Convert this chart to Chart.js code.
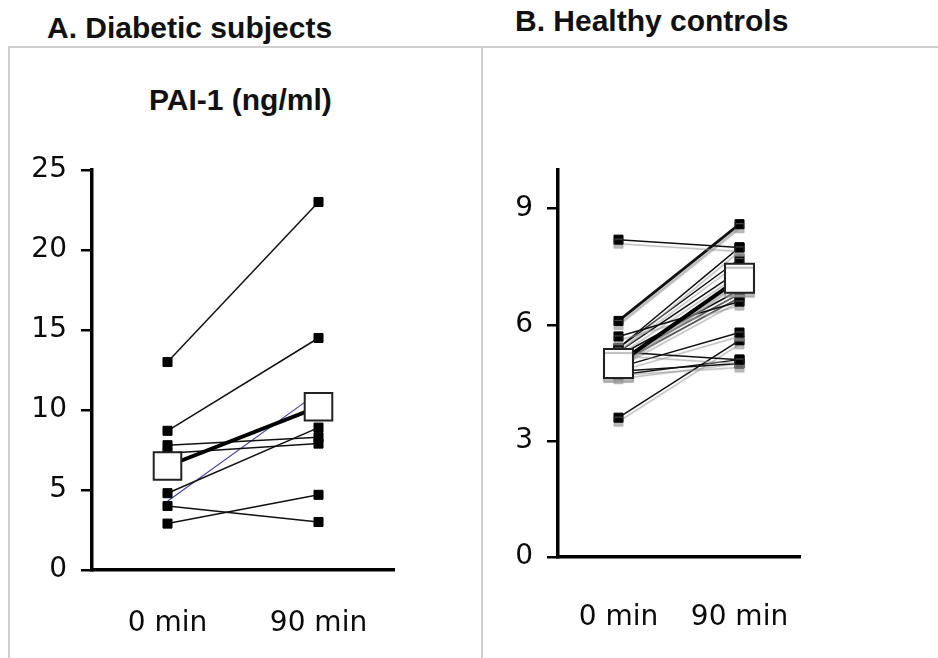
<!DOCTYPE html>
<html>
<head>
<meta charset="utf-8">
<script src="https://cdn.jsdelivr.net/npm/chart.js@4.4.1/dist/chart.umd.min.js"></script>
<style>
  html, body { margin: 0; padding: 0; background: #fff; }
  body { width: 938px; height: 658px; position: relative; overflow: hidden; }
  .t { position: absolute; font-family: "Liberation Sans", Arial, sans-serif; font-weight: bold; font-size: 30px; line-height: 1; color: #111; white-space: nowrap; }
  .ln { position: absolute; background: #cfcfcf; }
  canvas { position: absolute; }
</style>
</head>
<body>
<div class="ln" style="left:9px; top:46px; width:929px; height:2px;"></div>
<div class="ln" style="left:8px; top:46px; width:2px; height:612px;"></div>
<div class="ln" style="left:481px; top:46px; width:2px; height:612px;"></div>
<div class="t" style="left:47px; top:13px;">A. Diabetic subjects</div>
<div class="t" style="left:515px; top:6px;">B. Healthy controls</div>
<div class="t" style="left:149px; top:85px;">PAI-1 (ng/ml)</div>
<div style="position:absolute; left:0; top:0; width:482px; height:658px;"><canvas id="ca"></canvas></div>
<div style="position:absolute; left:482px; top:0; width:456px; height:658px;"><canvas id="cb"></canvas></div>
<script>
// ---- data ----
const categories = ['0 min', '90 min'];
const aTicks = [0, 5, 10, 15, 20, 25];
const bTicks = [0, 3, 6, 9];
// Panel A: diabetic subjects, PAI-1 (ng/ml) at 0 and 90 min
const aStart = [13.0, 8.7, 7.8, 7.3, 4.8, 4.3, 4.0, 2.9];
const aEnd   = [23.0, 14.5, 8.3, 7.9, 8.9, 11.1, 3.0, 4.7];
const aMean  = [6.5, 10.2];
// Panel B: healthy controls
const bStart = [8.2, 6.1, 5.7, 5.4, 5.4, 5.3, 5.2, 5.1, 5.3, 4.9, 4.8, 3.6, 5.0, 4.7];
const bEnd   = [8.0, 8.6, 6.6, 8.0, 7.7, 7.4, 6.9, 6.8, 5.1, 5.8, 5.0, 5.6, 6.7, 5.1];
const bMean  = [5.0, 7.2];

const catPos = [1, 3];      // category slots on a 0..4 x range
const aBlue = 5;            // subject drawn with the blue line in panel A
const bThick = 1;           // subject drawn with a heavier line in panel B

function pairData(v0, v1) {
  return [{ x: catPos[0], y: v0 }, { x: catPos[1], y: v1 }];
}

function makeDatasets(starts, ends, mean, special, specialStyle, meanRadius) {
  const ds = [];
  ds.push({
    data: pairData(mean[0], mean[1]),
    borderColor: '#000', borderWidth: 4,
    pointStyle: 'rect', pointRadius: meanRadius, pointHoverRadius: meanRadius,
    pointBackgroundColor: '#fff', pointBorderColor: '#222', pointBorderWidth: 2
  });
  starts.forEach((s, i) => {
    const d = {
      data: pairData(s, ends[i]),
      borderColor: '#111', borderWidth: 1.5,
      pointStyle: 'rect', pointRadius: 6.4, pointHoverRadius: 6.4,
      pointBackgroundColor: '#000', pointBorderColor: '#000', pointBorderWidth: 1
    };
    if (i === special) Object.assign(d, specialStyle);
    ds.push(d);
  });
  return ds;
}

const shadowPlugin = {
  id: 'softShadow',
  beforeDatasetsDraw(chart, args, o) {
    if (!o.on) return;
    const ctx = chart.ctx;
    ctx.save();
    ctx.shadowColor = 'rgba(150,150,150,0.65)';
    ctx.shadowOffsetY = 4;
    ctx.shadowBlur = 1;
  },
  afterDatasetsDraw(chart, args, o) {
    if (!o.on) return;
    chart.ctx.restore();
  }
};

function makeChart(id, datasets, yMax, yTicks, opts) {
  return new Chart(document.getElementById(id), {
    type: 'line',
    data: { datasets },
    plugins: [shadowPlugin],
    options: {
      responsive: true, maintainAspectRatio: false, animation: false,
      events: [],
      layout: { autoPadding: false, padding: { left: 0, right: opts.padRight, top: 170, bottom: 0 } },
      plugins: { legend: { display: false }, tooltip: { enabled: false }, softShadow: { on: opts.shadow } },
      scales: {
        x: {
          type: 'linear', min: 0, max: 4,
          afterBuildTicks: s => { s.ticks = catPos.map(v => ({ value: v })); },
          afterFit: s => { s.height = opts.xHeight; },
          ticks: {
            callback: (v) => categories[catPos.indexOf(v)],
            font: { family: 'DejaVu Sans', size: 28 }, color: '#0a0a0a',
            padding: opts.xPad, maxRotation: 0, autoSkip: false
          },
          grid: { display: false, drawTicks: false },
          border: { display: true, color: '#000', width: 3.5 }
        },
        y: {
          min: 0, max: yMax,
          afterBuildTicks: s => { s.ticks = yTicks.map(v => ({ value: v })); },
          afterFit: s => { s.width = opts.yWidth; },
          ticks: {
            font: { family: 'DejaVu Sans', size: 28 }, color: '#0a0a0a', padding: 14
          },
          grid: { drawOnChartArea: false, drawTicks: true, tickLength: 11, color: '#000', lineWidth: 2.5 },
          border: { display: true, color: '#000', width: 3.5 }
        }
      }
    }
  });
}

makeChart('ca',
  makeDatasets(aStart, aEnd, aMean, aBlue, { borderColor: '#3b3f9c', borderWidth: 1.1, pointRadius: 0, pointHoverRadius: 0 }, 19.5),
  25, aTicks,
  { padRight: 88, xHeight: 88, xPad: 37, yWidth: 92, shadow: false });

makeChart('cb',
  makeDatasets(bStart, bEnd, bMean, bThick, { borderWidth: 2.8 }, 20.5),
  10, bTicks,
  { padRight: 138, xHeight: 101, xPad: 44, yWidth: 76, shadow: true });
</script>
</body>
</html>
